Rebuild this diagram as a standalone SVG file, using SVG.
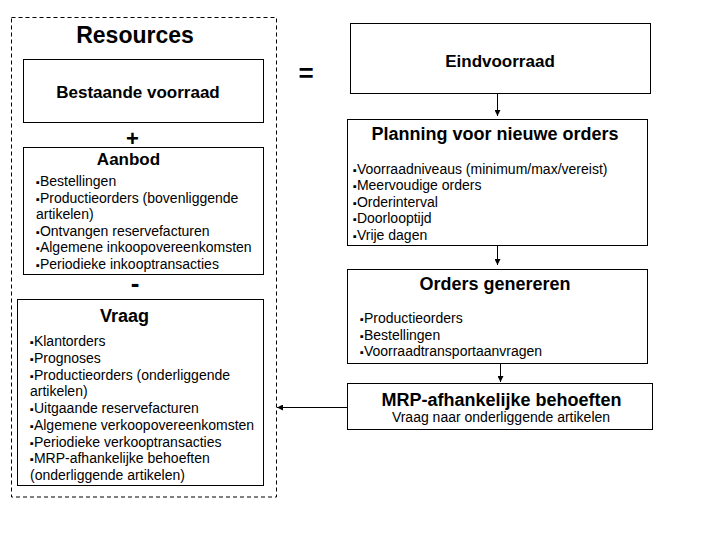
<svg xmlns="http://www.w3.org/2000/svg" width="720" height="540" viewBox="0 0 720 540">
<defs>
<style>
.box{fill:#fff;stroke:#000;stroke-width:1}
.t{font-family:"Liberation Sans",Arial,sans-serif;font-weight:bold;fill:#000}
.b{font-family:"Liberation Sans",Arial,sans-serif;font-size:14px;fill:#000}
.bl{font-size:11px}
.c{text-anchor:middle}
.conn{stroke:#000;stroke-width:1;fill:none}
</style>
<marker id="ah" markerUnits="userSpaceOnUse" markerWidth="6" markerHeight="6" refX="6" refY="3" orient="auto">
<path d="M0,0 L6,3 L0,6 Z" fill="#000"/>
</marker>
</defs>
<rect width="720" height="540" fill="#fff"/>
<g id="resources">
<rect x="11.5" y="17.5" width="265" height="479.5" fill="none" stroke="#000" stroke-width="1" stroke-dasharray="4,3"/>
<text class="t c" x="135" y="43" font-size="23">Resources</text>
<text class="t c" x="132.5" y="146" font-size="22">+</text>
<text class="t c" x="135" y="292" font-size="26">-</text>
</g>
<g id="bestaande">
<rect class="box" x="23.5" y="59.5" width="240" height="63"/>
<text class="t c" x="138" y="98" font-size="17">Bestaande voorraad</text>
</g>
<g id="aanbod">
<rect class="box" x="23.5" y="147.5" width="240" height="127"/>
<text class="t c" x="128.5" y="165" font-size="17">Aanbod</text>
<text class="b" x="36" y="186"><tspan class="bl">▪</tspan>Bestellingen</text>
<text class="b" x="36" y="202.5"><tspan class="bl">▪</tspan>Productieorders (bovenliggende</text>
<text class="b" x="36" y="219">artikelen)</text>
<text class="b" x="36" y="235.5"><tspan class="bl">▪</tspan>Ontvangen reservefacturen</text>
<text class="b" x="36" y="252"><tspan class="bl">▪</tspan>Algemene inkoopovereenkomsten</text>
<text class="b" x="36" y="268.5"><tspan class="bl">▪</tspan>Periodieke inkooptransacties</text>
</g>
<g id="vraag">
<rect class="box" x="17.5" y="299.5" width="246" height="186"/>
<text class="t c" x="124.5" y="322" font-size="18">Vraag</text>
<text class="b" x="30" y="346"><tspan class="bl">▪</tspan>Klantorders</text>
<text class="b" x="30" y="362.75"><tspan class="bl">▪</tspan>Prognoses</text>
<text class="b" x="30" y="379.5"><tspan class="bl">▪</tspan>Productieorders (onderliggende</text>
<text class="b" x="30" y="396.25">artikelen)</text>
<text class="b" x="30" y="413"><tspan class="bl">▪</tspan>Uitgaande reservefacturen</text>
<text class="b" x="30" y="429.75"><tspan class="bl">▪</tspan>Algemene verkoopovereenkomsten</text>
<text class="b" x="30" y="446.5"><tspan class="bl">▪</tspan>Periodieke verkooptransacties</text>
<text class="b" x="30" y="463.25"><tspan class="bl">▪</tspan>MRP-afhankelijke behoeften</text>
<text class="b" x="30" y="480">(onderliggende artikelen)</text>
</g>
<g id="equals">
<text class="t c" x="306" y="81.5" font-size="26">=</text>
</g>
<g id="eindvoorraad">
<rect class="box" x="350.5" y="23.5" width="300" height="70"/>
<text class="t c" x="500" y="67" font-size="17">Eindvoorraad</text>
</g>
<g id="planning">
<rect class="box" x="347.5" y="119.5" width="300" height="126"/>
<text class="t c" x="495" y="140" font-size="18">Planning voor nieuwe orders</text>
<text class="b" x="353" y="173.5"><tspan class="bl">▪</tspan>Voorraadniveaus (minimum/max/vereist)</text>
<text class="b" x="353" y="190"><tspan class="bl">▪</tspan>Meervoudige orders</text>
<text class="b" x="353" y="206.5"><tspan class="bl">▪</tspan>Orderinterval</text>
<text class="b" x="353" y="223"><tspan class="bl">▪</tspan>Doorlooptijd</text>
<text class="b" x="353" y="239.5"><tspan class="bl">▪</tspan>Vrije dagen</text>
</g>
<g id="orders">
<rect class="box" x="347.5" y="269.5" width="300" height="94"/>
<text class="t c" x="495" y="290" font-size="18">Orders genereren</text>
<text class="b" x="360" y="323"><tspan class="bl">▪</tspan>Productieorders</text>
<text class="b" x="360" y="339.5"><tspan class="bl">▪</tspan>Bestellingen</text>
<text class="b" x="360" y="356"><tspan class="bl">▪</tspan>Voorraadtransportaanvragen</text>
</g>
<g id="mrp">
<rect class="box" x="347.5" y="383.5" width="305" height="46"/>
<text class="t c" x="501.5" y="406" font-size="18">MRP-afhankelijke behoeften</text>
<text class="b c" x="501" y="422">Vraag naar onderliggende artikelen</text>
</g>
<g id="connectors">
<line class="conn" x1="497.5" y1="93.5" x2="497.5" y2="116" marker-end="url(#ah)"/>
<line class="conn" x1="497.5" y1="245.5" x2="497.5" y2="265" marker-end="url(#ah)"/>
<line class="conn" x1="500.5" y1="363.5" x2="500.5" y2="382" marker-end="url(#ah)"/>
<line class="conn" x1="347.5" y1="407.5" x2="277" y2="407.5" marker-end="url(#ah)"/>
</g>
</svg>
